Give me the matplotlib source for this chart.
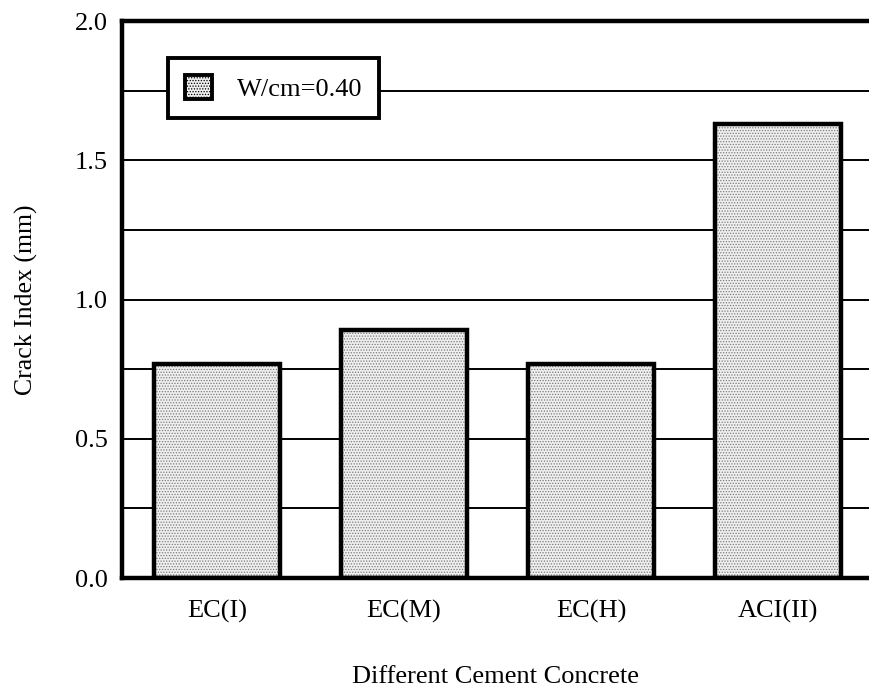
import matplotlib
matplotlib.use("Agg")
import matplotlib.pyplot as plt
from matplotlib.patches import Patch

plt.rcParams['font.family'] = ['Liberation Serif', 'DejaVu Serif']
plt.rcParams['hatch.linewidth'] = 0.6

categories = ["EC(I)", "EC(M)", "EC(H)", "ACI(II)"]
crack_index = [0.77, 0.89, 0.77, 1.63]
y_ticks = [0.0, 0.5, 1.0, 1.5, 2.0]
y_tick_labels = ["0.0", "0.5", "1.0", "1.5", "2.0"]
series_label = "W/cm=0.40"

fig = plt.figure(figsize=(8.7, 6.89), dpi=100)
ax = fig.add_axes([0.1402, 0.1611, 0.8598, 0.8084])

x = range(len(categories))
width = 0.674

# horizontal grid lines every 0.25
for g in [0.25, 0.5, 0.75, 1.0, 1.25, 1.5, 1.75]:
    ax.axhline(g, color='black', linewidth=1.4, zorder=1)

# stippled fill, then a heavy black outline
ax.bar(x, crack_index, width=width, color='#efefef', edgecolor='#7a7a7a',
       hatch='......', linewidth=0, zorder=2)
ax.bar(x, crack_index, width=width, fill=False, edgecolor='black',
       linewidth=3.2, zorder=3)

ax.set_xlim(-0.508, 3.492)
ax.set_ylim(0, 2.0)
ax.set_yticks(y_ticks)
ax.set_yticklabels(y_tick_labels, fontsize=19)
ax.set_xticks(list(x))
ax.set_xticklabels(categories, fontsize=19)
ax.tick_params(axis='y', length=0, pad=10)
ax.tick_params(axis='x', length=0, pad=16)

for side in ['left', 'bottom', 'top']:
    ax.spines[side].set_linewidth(3.2)
ax.spines['right'].set_visible(False)

ax.set_ylabel("Crack Index (mm)", fontsize=18.5, labelpad=27)
ax.set_xlabel("Different Cement Concrete", fontsize=19, labelpad=31)

handle = Patch(facecolor='#efefef', edgecolor='black', hatch='......', linewidth=2.8)
leg = ax.legend([handle], [series_label], loc='upper left',
                bbox_to_anchor=(0.0615, 0.934), fontsize=19, frameon=True,
                fancybox=False, framealpha=1, edgecolor='black',
                handlelength=1.0, handleheight=1.0, handletextpad=0.95,
                borderpad=0.65, borderaxespad=0)
leg.get_frame().set_linewidth(2.8)
leg.set_zorder(5)

fig.savefig("out.png", dpi=100)
